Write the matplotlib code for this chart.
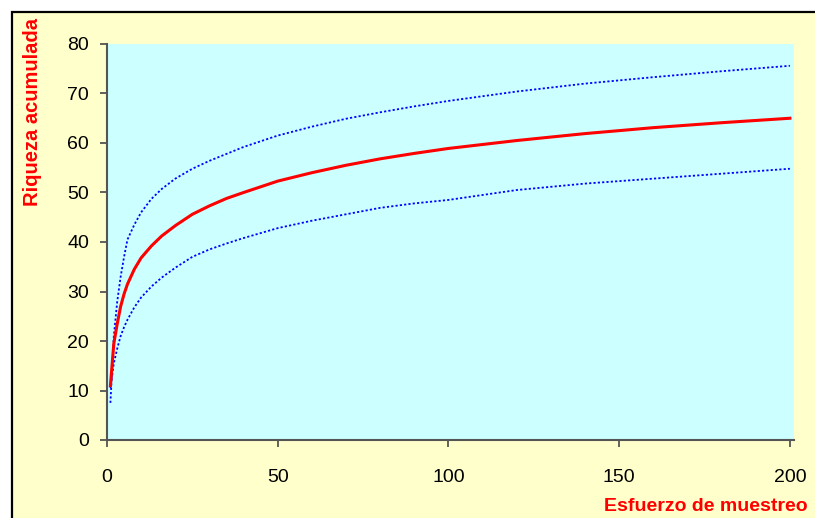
import matplotlib.pyplot as plt
import matplotlib.patches as patches
from matplotlib import font_manager

# sampling effort and accumulated richness (mean with upper/lower bounds)
esfuerzo = [1, 2, 3, 4, 5, 6, 8, 10, 13, 16, 20, 25, 30, 35, 40, 50,
            60, 70, 80, 90, 100, 120, 140, 160, 180, 200]
riqueza = [11, 19.5, 23.5, 27, 29.5, 31.5, 34.5, 36.8, 39.2, 41.2, 43.3, 45.6, 47.3, 48.8, 50, 52.3,
           54, 55.5, 56.8, 57.9, 58.9, 60.5, 61.9, 63.1, 64.1, 65]
riqueza_sup = [7.5, 21, 28, 33, 37, 40.5, 43.5, 46, 48.7, 50.7, 52.8, 54.8, 56.4, 57.8, 59.2, 61.5,
               63.3, 64.9, 66.2, 67.4, 68.5, 70.4, 72, 73.3, 74.5, 75.6]
riqueza_inf = [10.5, 15.5, 18.5, 21, 22.8, 24.3, 26.8, 28.8, 31, 32.8, 34.8, 37, 38.5, 39.7, 40.8, 42.8,
               44.3, 45.6, 46.9, 47.8, 48.5, 50.5, 51.8, 52.8, 53.8, 54.8]

xticks = [0, 50, 100, 150, 200]
yticks = [0, 10, 20, 30, 40, 50, 60, 70, 80]

names = {f.name for f in font_manager.fontManager.ttflist}
fam = 'Liberation Sans Narrow' if 'Liberation Sans Narrow' in names else 'Liberation Sans'
plt.rcParams['font.family'] = [fam, 'DejaVu Sans']

fig = plt.figure(figsize=(8.15, 5.18), dpi=100)
fig.patch.set_facecolor('white')

# chart area frame, running off the right and bottom edges
frame = patches.Rectangle((12/815, -0.5), 2.0, (518-12)/518 + 0.5,
                          transform=fig.transFigure, facecolor='#FFFFCC',
                          edgecolor='black', linewidth=1.6, zorder=-5)
fig.patches.append(frame)

ax = fig.add_axes([107/815, 78/518, 687/815, 396/518])
ax.set_facecolor('#CCFFFF')

ax.plot(esfuerzo, riqueza_sup, color='#0000FF', lw=1.3, ls=(0, (1.2, 1.2)))
ax.plot(esfuerzo, riqueza_inf, color='#0000FF', lw=1.3, ls=(0, (1.2, 1.2)))
ax.plot(esfuerzo, riqueza, color='#FF0000', lw=2.2)

ax.set_xlim(0, 201.2)
ax.set_ylim(0, 80)
ax.set_xticks(xticks)
ax.set_yticks(yticks)
ax.tick_params(axis='both', direction='out', length=5, width=1.3,
               color='#555555', labelsize=14, labelcolor='black')
ax.tick_params(axis='y', pad=8)
ax.tick_params(axis='x', pad=16)

for s in ['top', 'right']:
    ax.spines[s].set_visible(False)
for s in ['left', 'bottom']:
    ax.spines[s].set_color('#555555')
    ax.spines[s].set_linewidth(1.5)

fig.text(33/815, 1 - 112/518, 'Riqueza acumulada', rotation=90, color='#FF0000',
         fontsize=14.5, fontweight='bold', ha='center', va='center')
fig.text(604/815, 1 - 511/518, 'Esfuerzo de muestreo', color='#FF0000',
         fontsize=14, fontweight='bold', ha='left', va='baseline')

plt.savefig('out.png', dpi=100, facecolor=fig.get_facecolor())
